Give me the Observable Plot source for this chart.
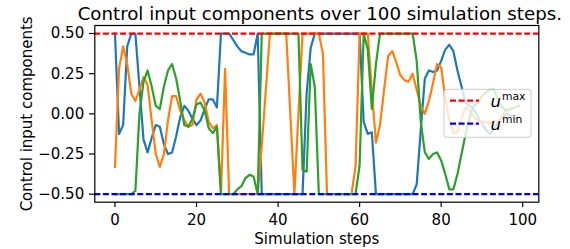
<!DOCTYPE html>
<html><head><meta charset="utf-8">
<script src="https://cdn.jsdelivr.net/npm/d3@7"></script>
<script src="https://cdn.jsdelivr.net/npm/@observablehq/plot@0.6"></script>
<style>
html,body{margin:0;padding:0;background:#fff;}
svg{display:block;}
</style></head><body><div id="chart"></div>
<script>
const title = "Control input components over 100 simulation steps.";
const xLabel = "Simulation steps";
const yLabel = "Control input components";
const xTicks = [0, 20, 40, 60, 80, 100];
const yTicks = [-0.5, -0.25, 0, 0.25, 0.5];
const uMax = 0.5;
const uMin = -0.5;
const legendLabels = ["max", "min"];

const u1 = [0.5,-0.125,-0.07,0.42,0.5,0.5,0.17,-0.16,-0.24,-0.15,
  -0.07,-0.08,-0.19,-0.25,-0.24,-0.14,-0.02,0.05,0.02,-0.03,
  -0.07,-0.04,0.03,0.09,0.09,0.04,0.5,0.5,0.5,0.46,
  0.42,0.39,0.38,0.37,0.37,0.5,-0.5,-0.5,-0.5,-0.5,
  -0.5,-0.5,-0.5,-0.5,-0.5,-0.5,-0.5,0.125,0.41,0.5,
  0.5,0.5,0.5,0.5,0.5,0.5,0.5,0.5,0.5,0.5,
  0.5,-0.05,-0.125,-0.115,-0.5,-0.5,-0.5,-0.5,-0.5,-0.5,
  -0.5,-0.5,-0.5,-0.5,-0.44,-0.1,0.22,0.27,0.26,0.27,
  0.33,0.4,0.43,0.39,0.27,0.17,0.07,0.05,0.03,-0.02,
  -0.06,-0.1,-0.125,-0.09,-0.05,-0.02,0.0,-0.01,-0.03,-0.02];

const u2 = [-0.33,0.28,0.42,0.31,0.125,0.08,0.15,0.23,0.18,-0.04,
  -0.25,-0.33,-0.25,-0.04,0.11,0.11,0.02,-0.04,-0.08,-0.07,
  0.09,0.125,0.07,-0.05,-0.09,-0.07,-0.5,0.28,-0.5,-0.5,
  -0.5,-0.5,-0.5,-0.5,-0.5,-0.5,-0.2,0.15,0.5,0.5,
  0.5,0.5,0.5,0.0,-0.5,0.0,0.5,0.5,0.5,0.5,
  0.5,0.375,-0.5,-0.5,-0.5,-0.5,-0.5,-0.5,-0.5,-0.33,
  0.5,0.5,0.5,0.15,-0.18,-0.07,0.15,0.36,0.39,0.32,
  0.24,0.21,0.2,0.25,0.15,0.05,0.0,0.08,0.19,0.31,
  0.29,0.1,-0.04,-0.12,-0.11,-0.03,0.04,0.02,-0.02,-0.04,
  -0.05,-0.05,-0.06,-0.04,-0.05,-0.01,0.03,0.03,0.04,0.05];

const u3 = [-0.5,-0.5,-0.5,-0.5,-0.5,-0.48,0.0,0.2,0.27,0.17,
  0.05,0.03,0.17,0.27,0.31,0.22,0.08,-0.07,-0.08,-0.03,
  0.06,0.07,0.02,-0.09,-0.12,-0.08,-0.5,-0.5,-0.5,-0.5,
  -0.47,-0.45,-0.4,-0.38,-0.39,-0.5,0.5,0.5,0.5,0.5,
  0.5,0.5,0.5,0.5,0.5,0.5,-0.35,-0.36,0.31,0.17,
  -0.5,-0.5,-0.5,-0.5,-0.5,-0.5,-0.5,-0.5,-0.5,-0.5,
  -0.32,0.5,0.4,0.03,0.31,0.5,0.5,0.5,0.5,0.5,
  0.5,0.5,0.5,0.5,0.33,-0.05,-0.24,-0.28,-0.25,-0.24,
  -0.29,-0.375,-0.47,-0.47,-0.375,-0.25,-0.125,-0.02,0.05,0.07,
  0.11,0.135,0.15,0.15,0.08,0.04,0.02,0.03,0.04,0.05];

const steps = d3.range(u1.length);
const series = [
  {values: u1, color: "#1f77b4"},
  {values: u2, color: "#ff7f0e"},
  {values: u3, color: "#2ca02c"}
];

const W = 570, H = 249;
const mL = 94.3, mR = 31.7, mT = 25, mB = 47.3;
const lw = 2.2;
const dash = "6,2.6";
const font = "DejaVu Sans";
const fs = 15;

const lineMarks = series.map(s =>
  Plot.line(steps, {x: i => i, y: i => s.values[i], stroke: s.color, strokeWidth: lw, strokeLinejoin: "round", strokeLinecap: "square"})
);

const plot = Plot.plot({
  width: W, height: H,
  marginLeft: mL, marginRight: mR, marginTop: mT, marginBottom: mB,
  style: {fontFamily: font, fontSize: fs + "px", background: "white", color: "black", overflow: "visible"},
  x: {domain: [-4.95, 103.95], axis: null},
  y: {domain: [-0.55, 0.55], axis: null},
  marks: [
    ...lineMarks,
    Plot.ruleY([uMax], {stroke: "#ff0000", strokeWidth: lw, strokeDasharray: dash}),
    Plot.ruleY([uMin], {stroke: "#0000ff", strokeWidth: lw, strokeDasharray: dash}),
    Plot.frame({stroke: "black", strokeWidth: 1.2}),
    Plot.axisX(xTicks, {tickSize: 5.3, tickPadding: 6.9, tickFormat: d => String(d), fontSize: fs, strokeWidth: 1.2}),
    Plot.axisY(yTicks, {tickSize: 5.3, tickPadding: 5.3, tickFormat: d3.format(".2f"), fontSize: fs, strokeWidth: 1.2}),
    Plot.text([title], {frameAnchor: "top", dx: 3, dy: -11.8, fontSize: 18.2, lineAnchor: "middle", textAnchor: "middle"}),
    Plot.text([yLabel], {frameAnchor: "left", rotate: -90, dx: -68.1, fontSize: fs, lineAnchor: "middle", textAnchor: "middle"}),
    Plot.text([xLabel], {frameAnchor: "bottom", dy: 36.5, fontSize: fs, lineAnchor: "middle", textAnchor: "middle"})
  ]
});

// legend (matplotlib-style box, overlaid on the axes)
const svg = d3.select(plot);
const frameRight = W - mR;
const bx = frameRight - 94.3, by = 89.3, bw = 87, bh = 48;
const lg = svg.append("g").attr("font-family", font).attr("text-anchor", "start");
lg.append("rect").attr("x", bx).attr("y", by).attr("width", bw).attr("height", bh)
  .attr("rx", 3).attr("fill", "white").attr("fill-opacity", 0.8)
  .attr("stroke", "#cccccc").attr("stroke-opacity", 0.8).attr("stroke-width", 1.2);
const legendColors = ["#ff0000", "#0000ff"];
legendLabels.forEach((lab, i) => {
  const yy = by + 11.4 + i * 23;
  lg.append("line").attr("x1", bx + 6).attr("x2", bx + 35).attr("y1", yy).attr("y2", yy)
    .attr("stroke", legendColors[i]).attr("stroke-width", lw).attr("stroke-dasharray", dash);
  const t = lg.append("text").attr("x", bx + 46.5).attr("y", yy + 6.6).attr("fill", "black").attr("text-anchor", "start");
  t.append("tspan").attr("font-style", "italic").attr("font-size", 16.5).text("u");
  t.append("tspan").attr("font-size", 10.8).attr("dy", -7.3).attr("dx", 1).text(lab);
});

document.getElementById("chart").appendChild(plot);
</script>
</body></html>
